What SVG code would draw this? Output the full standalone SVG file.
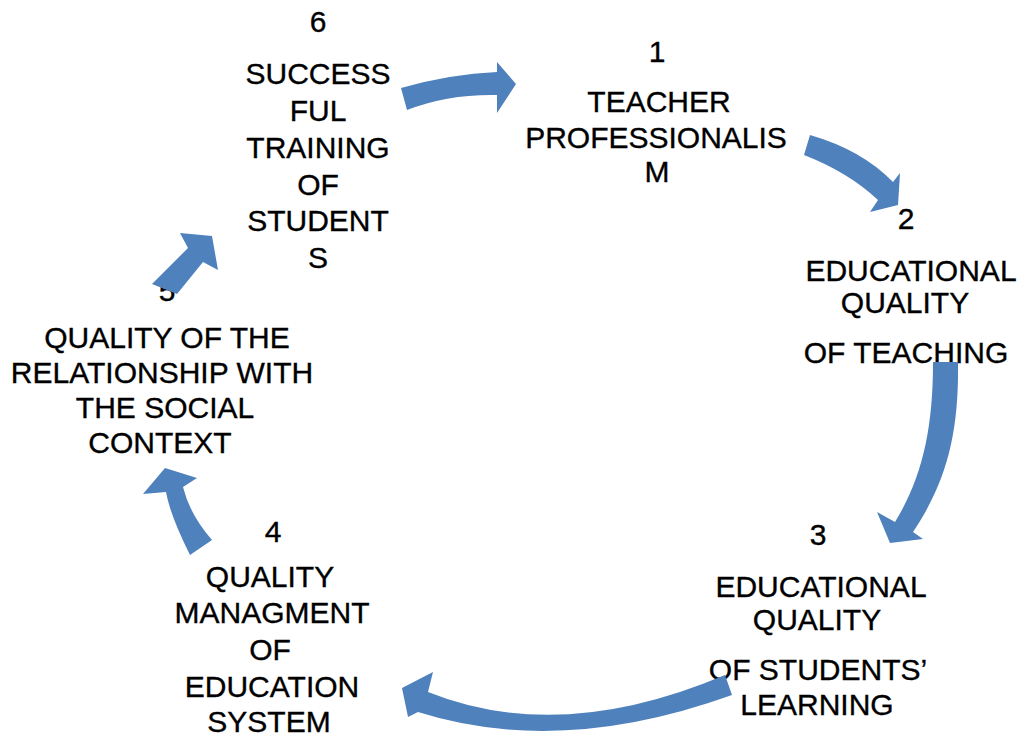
<svg xmlns="http://www.w3.org/2000/svg" width="1027" height="736" viewBox="0 0 1027 736">
<style>
text{font-family:"Liberation Sans",Arial,sans-serif;font-size:30px;fill:#000;stroke:#000;stroke-width:0.35;text-anchor:middle}
.arrow{fill:#4F81BD;stroke:none}
</style>
<rect width="1027" height="736" fill="#fff"/>
<g id="node6">
<text x="318" y="32">6</text>
<text x="318" y="84">SUCCESS</text>
<text x="318" y="121">FUL</text>
<text x="318" y="158">TRAINING</text>
<text x="318" y="195">OF</text>
<text x="318" y="231">STUDENT</text>
<text x="318" y="268">S</text>
</g>
<g id="node1">
<text x="657" y="62">1</text>
<text x="659" y="112">TEACHER</text>
<text x="656" y="148">PROFESSIONALIS</text>
<text x="657" y="182">M</text>
</g>
<g id="node2">
<text x="906" y="229">2</text>
<text x="911" y="281">EDUCATIONAL</text>
<text x="905" y="313">QUALITY</text>
<text x="906" y="363">OF TEACHING</text>
</g>
<g id="node3">
<text x="818" y="545">3</text>
<text x="821" y="597">EDUCATIONAL</text>
<text x="817" y="630">QUALITY</text>
<text x="818" y="680">OF STUDENTS’</text>
<text x="817" y="715">LEARNING</text>
</g>
<g id="node4">
<text x="273" y="542">4</text>
<text x="270" y="587">QUALITY</text>
<text x="272" y="623">MANAGMENT</text>
<text x="270" y="660">OF</text>
<text x="272" y="697">EDUCATION</text>
<text x="269" y="732">SYSTEM</text>
</g>
<g id="node5">
<text x="167" y="301">5</text>
<text x="167" y="348">QUALITY OF THE</text>
<text x="162" y="383">RELATIONSHIP WITH</text>
<text x="165" y="418">THE SOCIAL</text>
<text x="160" y="453">CONTEXT</text>
</g>
<g id="connectors">
<path class="arrow" d="M401,88 Q450,74 497,72 L497,62 L516,84 L497,113 L497,95 Q448,94 407,110 Z"/>
<path class="arrow" d="M810,135 Q862,150 893,182 L900,173 L898,205 L870,212 L878,200 Q848,172 804,155 Z"/>
<path class="arrow" d="M933,362 L958,362 C959,430 948,480 913,532 L923,539 L890,543 L877,512 L895,522 C922,478 933,430 933,362 Z"/>
<path class="arrow" d="M725,675 Q560,745 428,692 L433,672 L402,688 L408,717 L418,712 Q560,757 732,695 Z"/>
<path class="arrow" d="M190,555 Q170,515 166,492 L143,494 L165,468 L197,478 L183,487 Q190,515 212,540 Z"/>
<path class="arrow" d="M152,284 L188,248 L180,233 L212,236 L218,270 L203,262 L177,294 Z"/>
</g>
</svg>
